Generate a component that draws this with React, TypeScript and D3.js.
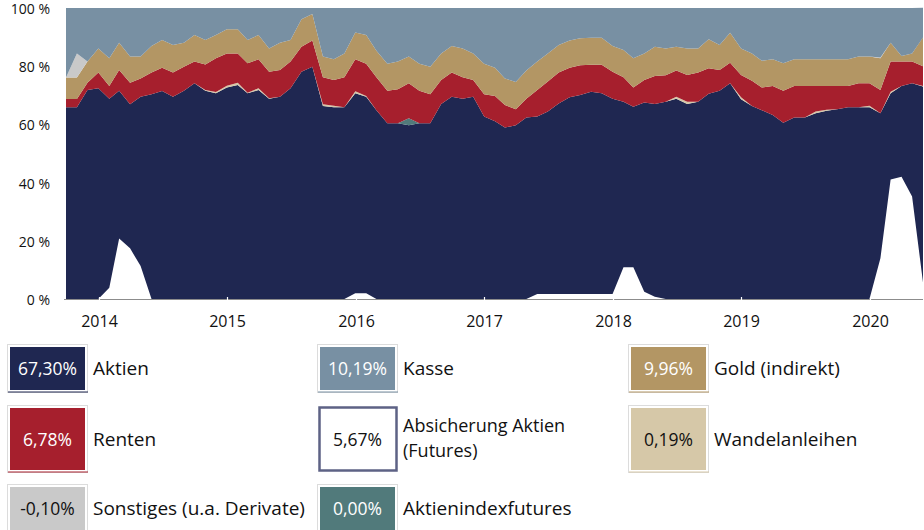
import React from "react";
import * as d3 from "d3";

// month ends, Sep 2013 .. May 2020
const months = d3.range(81).map((i) => new Date(2013, 9 + i, 0));

const absicherung = [
  0, 0, 0, 0, 3.9, 20.8, 17.4, 11.3, 0, 0,
  0, 0, 0, 0, 0, 0, 0, 0, 0, 0,
  0, 0, 0, 0, 0, 0, 0, 2.0, 2.0, 0,
  0, 0, 0, 0, 0, 0, 0, 0, 0, 0,
  0, 0, 0, 0, 1.7, 1.7, 1.7, 1.7, 1.7, 1.7,
  1.7, 1.7, 10.9, 10.9, 2.5, 0.8, 0, 0, 0, 0,
  0, 0, 0, 0, 0, 0, 0, 0, 0, 0,
  0, 0, 0, 0, 0, 0, 14.0, 41.1, 42.0, 35.2,
  5.7,
];
const aktien = [
  65.9, 65.9, 71.8, 72.4, 64.9, 50.8, 49.5, 58.2, 70.4, 71.5,
  69.5, 71.6, 74.1, 71.6, 70.7, 72.7, 73.5, 70.7, 71.8, 68.8,
  69.5, 72.4, 78.1, 79.8, 66.3, 65.9, 65.9, 68.7, 67.5, 64.9,
  60.4, 60.4, 59.7, 60.4, 60.4, 67.0, 69.5, 68.8, 69.5, 62.7,
  61.1, 58.9, 59.7, 62.4, 61.0, 62.7, 65.5, 67.6, 68.4, 69.5,
  69.0, 67.1, 56.9, 55.2, 65.0, 66.2, 67.8, 68.8, 67.0, 67.8,
  70.5, 71.6, 74.1, 68.6, 66.3, 64.9, 63.2, 60.6, 62.4, 62.4,
  63.8, 64.7, 65.2, 65.9, 65.9, 65.9, 49.8, 29.6, 31.2, 38.9,
  67.3,
];
const aktienindexfutures = [
  0, 0, 0, 0, 0, 0, 0, 0, 0, 0,
  0, 0, 0, 0, 0, 0, 0, 0, 0, 0,
  0, 0, 0, 0, 0, 0, 0, 0, 0, 0,
  0, 0, 2.4, 0, 0, 0, 0, 0, 0, 0,
  0, 0, 0, 0, 0, 0, 0, 0, 0, 0,
  0, 0, 0, 0, 0, 0, 0, 0, 0, 0,
  0, 0, 0, 0, 0, 0, 0, 0, 0, 0,
  0, 0, 0, 0, 0, 0, 0, 0, 0, 0,
  0,
];
const wandelanleihen = [
  0, 0, 0, 0, 0, 0, 0, 0, 0, 0,
  0, 0, 0, 0.2, 0.4, 0.6, 0.8, 0.2, 0.6, 0.2,
  0, 0, 0, 0, 0.6, 0.5, 0, 0.7, 0.3, 0,
  0, 0, 0, 0, 0, 0, 0, 0, 0, 0,
  0, 0, 0, 0, 0, 0, 0, 0, 0, 0,
  0, 0, 0, 0, 0, 0, 0, 0.7, 0.8, 0,
  0, 0, 0, 0.7, 0, 0, 0, 0, 0, 0,
  0.6, 0.3, 0, 0, 0, 0.5, 0, 0.5, 0, 0,
  0.2,
];
const renten = [
  2.8, 2.8, 2.5, 5.4, 4.4, 7.1, 7.4, 6.3, 7.4, 8.0,
  8.3, 8.2, 7.5, 8.8, 11.6, 11.1, 10.1, 10.1, 10.0, 9.1,
  9.2, 9.2, 8.6, 9.0, 9.3, 8.9, 10.3, 11.0, 11.0, 11.3,
  11.2, 11.7, 12.0, 11.2, 10.0, 8.3, 8.3, 7.4, 5.8, 7.7,
  8.7, 7.8, 5.5, 6.4, 9.1, 10.3, 10.6, 10.2, 10.2, 9.3,
  9.8, 9.3, 8.4, 6.6, 7.8, 9.6, 9.1, 9.0, 9.2, 10.0,
  8.8, 7.1, 7.1, 7.7, 8.7, 7.8, 10.0, 11.0, 10.8, 10.8,
  8.8, 8.2, 8.0, 7.3, 8.2, 7.7, 8.0, 10.4, 8.4, 7.5,
  6.8,
];
const gold = [
  7.4, 7.4, 7.3, 8.3, 9.5, 9.4, 9.0, 7.5, 9.1, 9.5,
  9.5, 8.3, 9.1, 8.4, 8.0, 8.3, 8.3, 8.0, 8.3, 8.0,
  9.4, 7.4, 9.4, 9.1, 7.1, 7.1, 8.2, 9.2, 9.9, 9.1,
  9.2, 9.5, 9.2, 9.2, 9.4, 9.1, 9.1, 9.9, 9.1, 10.4,
  9.7, 9.1, 9.4, 9.7, 9.8, 9.7, 9.5, 9.3, 9.3, 9.3,
  9.3, 8.8, 9.4, 10.0, 9.1, 10.1, 9.2, 8.2, 9.1, 8.3,
  10.0, 8.6, 10.3, 9.1, 9.4, 9.2, 9.2, 9.4, 9.2, 9.2,
  9.2, 9.2, 9.2, 9.2, 9.2, 9.2, 10.9, 6.5, 1.9, 2.8,
  10.0,
];
const sonstiges = [
  0, 8.3, 0, 0, 0, 0, 0, 0, 0, 0,
  0, 0, 0, 0, 0, 0, 0, 0, 0, 0,
  0, 0, 0, 0, 0, 0, 0, 0, 0, 0,
  0, 0, 0, 0, 0, 0, 0, 0, 0, 0,
  0, 0, 0, 0, 0, 0, 0, 0, 0, 0,
  0, 0, 0, 0, 0, 0, 0, 0, 0, 0,
  0, 0, 0, 0, 0, 0, 0, 0, 0, 0,
  0, 0, 0, 0, 0, 0, 0.3, 0, 0, 0,
  -0.1,
];
const kasse = [
  23.9, 15.6, 18.4, 13.9, 17.3, 11.9, 16.7, 16.7, 13.1, 11.0,
  12.7, 11.9, 9.3, 11.0, 9.3, 7.3, 7.3, 11.0, 9.3, 13.9,
  11.9, 11.0, 3.9, 2.1, 16.7, 17.6, 15.6, 8.4, 9.3, 14.7,
  19.2, 18.4, 16.7, 19.2, 20.2, 15.6, 13.1, 13.9, 15.6, 19.2,
  20.5, 24.2, 25.4, 21.5, 18.4, 15.6, 12.7, 11.2, 10.4, 10.2,
  10.2, 13.1, 14.4, 17.3, 15.6, 13.3, 13.9, 13.3, 13.9, 13.9,
  10.7, 12.7, 8.5, 13.9, 15.6, 18.1, 17.6, 19.0, 17.6, 17.6,
  17.6, 17.6, 17.6, 17.6, 16.7, 16.7, 17.0, 11.9, 16.5, 15.6,
  10.2,
];

// stacking order bottom -> top
const keys = ["absicherung", "aktien", "futures", "wandel", "renten", "gold", "sonstiges", "kasse"];
const colors: Record<string, string> = {
  absicherung: "#ffffff",
  aktien: "#1f2751",
  futures: "#517a7b",
  wandel: "#d6c8a8",
  renten: "#a61f2d",
  gold: "#b39664",
  sonstiges: "#c9c9c9",
  kasse: "#7890a3",
};

const yTicks = [0, 20, 40, 60, 80, 100];
const years = [2014, 2015, 2016, 2017, 2018, 2019, 2020];

// legend
const legendLabels = [
  ["Aktien"], ["Kasse"], ["Gold (indirekt)"],
  ["Renten"], ["Absicherung Aktien", "(Futures)"], ["Wandelanleihen"],
  ["Sonstiges (u.a. Derivate)"], ["Aktienindexfutures"],
];
const legendValues = ["67,30%", "10,19%", "9,96%", "6,78%", "5,67%", "0,19%", "-0,10%", "0,00%"];
const legendKeys = ["aktien", "kasse", "gold", "renten", "absicherung", "wandel", "sonstiges", "futures"];

const FONT = "'Open Sans', sans-serif";

export default function App() {
  const rows = months.map((d, i) => ({
    date: d,
    absicherung: absicherung[i],
    aktien: aktien[i],
    futures: aktienindexfutures[i],
    wandel: wandelanleihen[i],
    renten: renten[i],
    gold: gold[i],
    sonstiges: sonstiges[i],
    kasse: kasse[i],
  }));

  const x = d3.scaleTime().domain([months[0], months[months.length - 1]]).range([66, 923]);
  const y = d3.scaleLinear().domain([0, 100]).range([299, 8]);

  const series = d3.stack<any>().keys(keys)(rows);
  const area = d3
    .area<any>()
    .x((d) => x(d.data.date))
    .y0((d) => y(d[0]))
    .y1((d) => y(d[1]));

  const colX = [8, 318, 629];
  const rowY = [345, 406, 485];
  const rowH = [47, 66, 47];

  return (
    <svg width={924} height={530} style={{ position: "absolute", left: 0, top: 0 }} fontFamily={FONT}>
      <rect width={924} height={530} fill="#fff" />
      {series.map((s) => (
        <path key={s.key} d={area(s) || ""} fill={colors[s.key]} />
      ))}
      <line x1={64} x2={923} y1={299.5} y2={299.5} stroke="#8c8c8c" strokeWidth={1} />
      {years.map((yr) => {
        const xx = Math.round(x(new Date(yr, 0, 1))) + 0.5;
        return (
          <g key={yr}>
            <line x1={xx} x2={xx} y1={297} y2={302} stroke="#fff" strokeWidth={1.2} />
            <text x={xx} y={327} textAnchor="middle" fontSize={16} fill="#111">
              {yr}
            </text>
          </g>
        );
      })}
      {yTicks.map((t) => (
        <text key={t} x={50} y={y(t) + 6} textAnchor="end" fontSize={14} fill="#111">
          {t} %
        </text>
      ))}
      {legendKeys.map((k, i) => {
        const c = i % 3;
        const r = Math.floor(i / 3);
        const bx = colX[c];
        const by = rowY[r];
        const h = rowH[r];
        const cy = by + h / 2;
        const light = k === "absicherung" || k === "wandel" || k === "sonstiges";
        const lines = legendLabels[i];
        return (
          <g key={k}>
            {k === "absicherung" ? (
              <rect x={bx + 1.5} y={by + 1.5} width={77} height={h - 3} fill="#fff" stroke="#5d6285" strokeWidth={2.5} />
            ) : (
              <g>
                <rect x={bx - 0.5} y={by - 0.5} width={80} height={h + 1} fill="#fff" stroke="#dcdcdc" strokeWidth={1} />
                <rect x={bx + 2} y={by + 2} width={75} height={h - 4} fill={colors[k]} />
                <line x1={bx} x2={bx + 80} y1={by + h} y2={by + h} stroke={colors[k]} strokeWidth={1} />
              </g>
            )}
            <text x={bx + 39.5} y={cy + 6.5} textAnchor="middle" fontSize={17.5} fill={light ? "#111" : "#fff"}>
              {legendValues[i]}
            </text>
            {lines.length === 1 ? (
              <text x={bx + 85} y={cy + 6.5} fontSize={19} fill="#111">
                {lines[0]}
              </text>
            ) : (
              lines.map((l, j) => (
                <text key={j} x={bx + 85} y={cy - 7 + j * 24.8} fontSize={18} fill="#111">
                  {l}
                </text>
              ))
            )}
          </g>
        );
      })}
    </svg>
  );
}
